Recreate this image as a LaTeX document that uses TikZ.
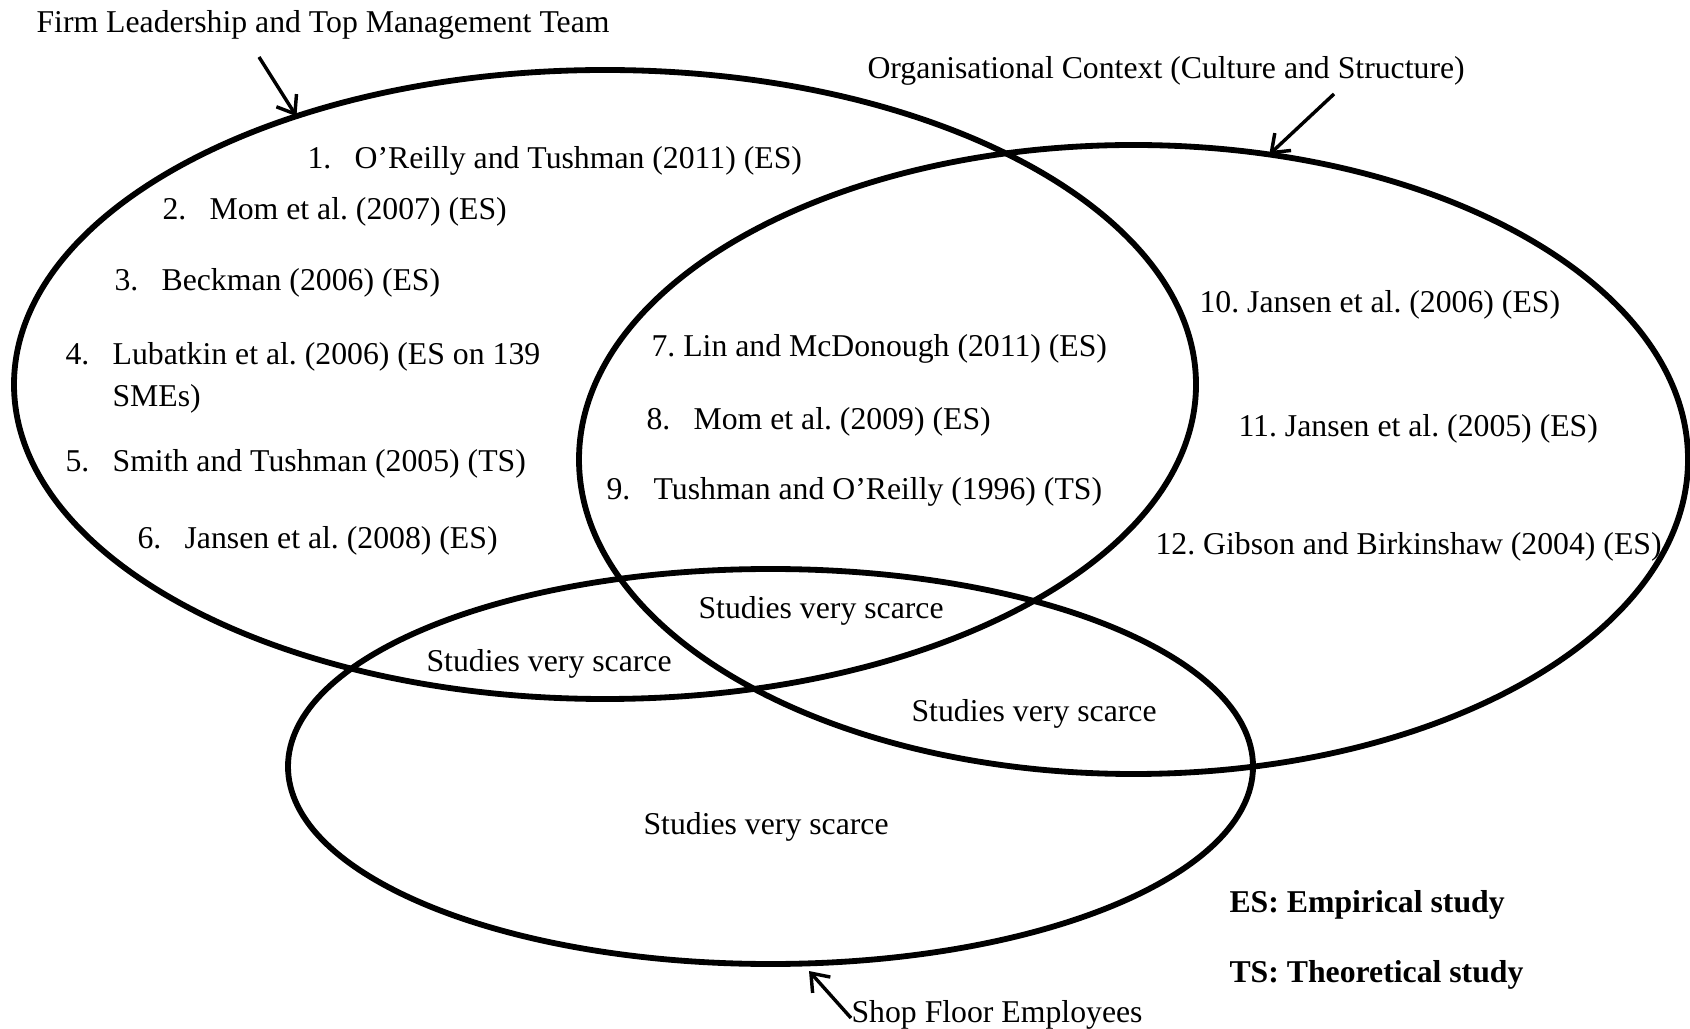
\documentclass[tikz,border=0pt]{standalone}
\usepackage{fontspec}
\setmainfont{Liberation Serif}
\usetikzlibrary{shapes.geometric, arrows.meta}
% one drawing unit = one pixel of the layout grid
\newdimen\pxu \pxu=0.378pt
\newcommand\itemnum[1]{\makebox[17.8pt][l]{#1}}
\frenchspacing

\begin{document}
\begin{tikzpicture}[x=0.378pt, y=-0.378pt,
  ring/.style={draw, ellipse, line width=2.2pt, inner sep=0pt, outer sep=0pt},
  txt/.style={anchor=base west, inner sep=0pt, font=\fontsize{12}{15.9}\selectfont},
  legend/.style={txt, font=\fontsize{12}{15.9}\selectfont\bfseries},
  pointer/.style={line width=1.3pt, -{Straight Barb[length=6pt, width=9pt]}}]

\useasboundingbox (0,0) rectangle (1690,1029);

% the three overlapping domains
\node[ring, minimum width=1182\pxu, minimum height=629\pxu] (lead) at (605,384.5) {};
\node[ring, minimum width=1109\pxu, minimum height=629\pxu] (ctx) at (1133.5,459.5) {};
\node[ring, minimum width=965\pxu, minimum height=395\pxu] (shop) at (770.5,766.5) {};

% domain labels
\node[txt] (leadlbl) at (36,33) {Firm Leadership and Top Management Team};
\node[txt] (ctxlbl) at (867,79) {Organisational Context (Culture and Structure)};
\node[txt] (shoplbl) at (851,1022) {Shop Floor Employees};

% pointers from the labels to the ellipses
\coordinate (leadtail) at (259,57);
\coordinate (ctxtail) at (1334,94);
\coordinate (shoptail) at (851,1018);
\coordinate (shoptip) at (809,971);
\draw[pointer] (leadtail) -- (lead.139.8);
\draw[pointer] (ctxtail) -- (ctx.66.5);
\draw[pointer] (shoptail) -- (shoptip);

% leadership studies
\node[txt] (s1) at (307,169) {\itemnum{1.}O’Reilly and Tushman (2011) (ES)};
\node[txt] (s2) at (162,220) {\itemnum{2.}Mom et al. (2007) (ES)};
\node[txt] (s3) at (114,291) {\itemnum{3.}Beckman (2006) (ES)};
\node[txt] (s4) at (65,365) {\itemnum{4.}Lubatkin et al. (2006) (ES on 139};
\node[txt] (s4b) at (112,407) {SMEs)};
\node[txt] (s5) at (65,472) {\itemnum{5.}Smith and Tushman (2005) (TS)};
\node[txt] (s6) at (137,549) {\itemnum{6.}Jansen et al. (2008) (ES)};

% leadership and context overlap
\node[txt] (s7) at (651,357) {7. Lin and McDonough (2011) (ES)};
\node[txt] (s8) at (646,430) {\itemnum{8.}Mom et al. (2009) (ES)};
\node[txt] (s9) at (606,500) {\itemnum{9.}Tushman and O’Reilly (1996) (TS)};

% context studies
\node[txt] (s10) at (1199,313) {10. Jansen et al. (2006) (ES)};
\node[txt] (s11) at (1238,437) {11. Jansen et al. (2005) (ES)};
\node[txt] (s12) at (1155,555) {12. Gibson and Birkinshaw (2004) (ES)};

% regions involving shop floor employees
\node[txt] (gap1) at (698,619) {Studies very scarce};
\node[txt] (gap2) at (426,672) {Studies very scarce};
\node[txt] (gap3) at (911,722) {Studies very scarce};
\node[txt] (gap4) at (643,834) {Studies very scarce};

% key
\node[legend] (keyes) at (1229,912) {ES: Empirical study};
\node[legend] (keyts) at (1229,982) {TS: Theoretical study};
\end{tikzpicture}
\end{document}
